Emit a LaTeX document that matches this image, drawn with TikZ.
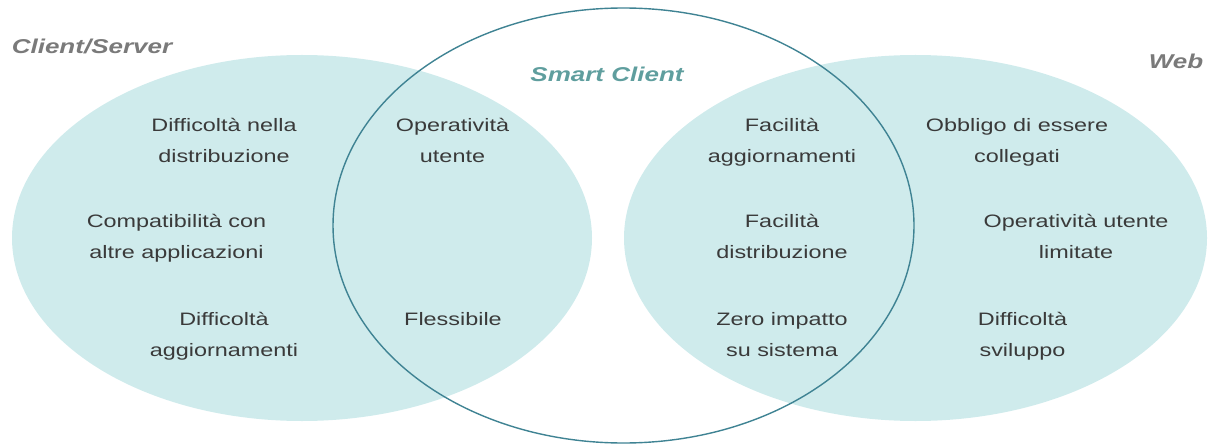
\documentclass[tikz,border=0pt]{standalone}
\usepackage{fontspec}
\setmainfont{Liberation Sans}[FakeStretch=1.3]
\begin{document}
\definecolor{vennfill}{HTML}{CFEBEC}
\definecolor{vennline}{HTML}{3F8393}
\definecolor{bodytxt}{HTML}{3A3A3A}
\definecolor{labgray}{HTML}{7A7A7A}
\definecolor{labteal}{HTML}{5F9E9E}
\begin{tikzpicture}[x=1pt,y=1pt,
  item/.style={inner sep=0pt, align=center, text=bodytxt, font=\fontsize{18}{31}\selectfont},
  setlabel/.style={inner sep=0pt, anchor=base, font=\fontsize{20}{24}\selectfont\bfseries\itshape}]
\useasboundingbox (0,0) rectangle (1209,445);
% sets
\fill[vennfill] (302,207) ellipse [x radius=290, y radius=183];
\fill[vennfill] (915.5,207) ellipse [x radius=291.5, y radius=183];
\draw[vennline, line width=1.4pt] (623.5,219.5) ellipse [x radius=290.5, y radius=217.5];
% labels
\node[setlabel, text=labgray] (cs) at (92,391) {Client/Server};
\node[setlabel, text=labteal] (sc) at (607,363) {Smart Client};
\node[setlabel, text=labgray] (web) at (1176,376) {Web};
% client/server only
\node[item] (dn) at (224,303.7) {\strut Difficoltà nella\\\strut distribuzione};
\node[item] (comp) at (176.5,208.7) {\strut Compatibilità con\\\strut altre applicazioni};
\node[item] (agg) at (224,110.7) {\strut Difficoltà\\\strut aggiornamenti};
% client/server + smart client
\node[item] (op) at (452.5,303.7) {\strut Operatività\\\strut utente};
\node[item] (fless) at (453,126.2) {\strut Flessibile};
% web + smart client
\node[item] (fac) at (782,303.7) {\strut Facilità\\\strut aggiornamenti};
\node[item] (facd) at (782,208.7) {\strut Facilità\\\strut distribuzione};
\node[item] (zero) at (782,110.7) {\strut Zero impatto\\\strut su sistema};
% web only
\node[item] (obb) at (1017,303.7) {\strut Obbligo di essere\\\strut collegati};
\node[item] (opl) at (1076,208.7) {\strut Operatività utente\\\strut limitate};
\node[item] (dsv) at (1022.5,110.7) {\strut Difficoltà\\\strut sviluppo};
\end{tikzpicture}
\end{document}
